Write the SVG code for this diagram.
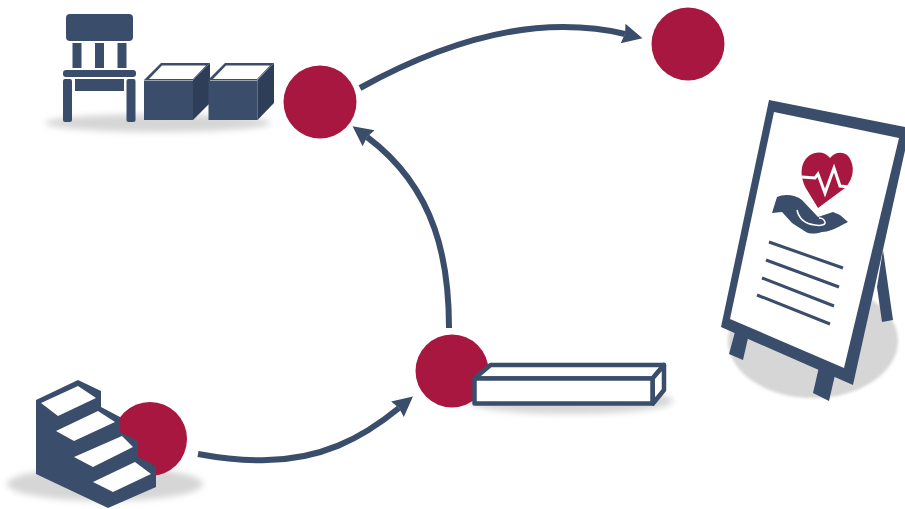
<svg xmlns="http://www.w3.org/2000/svg" width="905" height="509" viewBox="0 0 905 509">
<style>
.n{fill:#3a4d6b}.d{fill:#2e3d58}.w{fill:#fff}.r{fill:#a8173f}.s{fill:#d6d6d6}
.c{fill:none;stroke:#3a4d6b;stroke-width:6}
.l{stroke:#3a4d6b;stroke-width:3;fill:none}
.b{fill:#fff;stroke:#3a4d6b;stroke-width:4.500;stroke-linejoin:round}
</style>
<defs>
<filter id="f" x="-20%" y="-50%" width="140%" height="200%"><feGaussianBlur stdDeviation="3"/></filter>
<filter id="f2" x="-10%" y="-10%" width="120%" height="120%"><feGaussianBlur stdDeviation="1.500"/></filter>
<marker id="a" markerUnits="userSpaceOnUse" markerWidth="24" markerHeight="24" refX="2" refY="12" orient="auto"><path d="M0 2L20 12L0 22L2 12Z" fill="#3a4d6b"/></marker>
</defs>
<rect width="905" height="509" fill="#fff"/>
<g id="connectors">
<path class="c" marker-end="url(#a)" d="M198 454C225 459 245 461 267 460C320 459 360 440 399 408"/>
<path class="c" marker-end="url(#a)" d="M449 328C449 265 438 190 367 137"/>
<path class="c" marker-end="url(#a)" d="M360 88C420 55 490 27 563 27C585 27 605 29 625 34"/>
</g>
<g id="node-chair">
<ellipse class="s" cx="158" cy="123" rx="113" ry="9" filter="url(#f)"/>
<rect class="n" x="66" y="14" width="67" height="27" rx="4"/>
<rect class="n" x="72.500" y="43" width="9" height="25"/>
<rect class="n" x="95" y="43" width="9" height="25"/>
<rect class="n" x="117.500" y="43" width="9" height="25"/>
<rect class="n" x="63" y="70" width="73" height="7" rx="3"/>
<rect class="n" x="63" y="79" width="9" height="43" rx="2"/>
<rect class="n" x="126.500" y="79" width="9" height="43" rx="2"/>
<rect class="n" x="75" y="79" width="49" height="12"/>
</g>
<g id="node-box-1">
<path class="n" d="M144 80L161 63H210L193 80Z"/>
<path class="w" d="M149 79L162 65.500H206L193 79Z"/>
<rect class="n" x="144" y="80.500" width="49" height="39.500"/>
<path class="d" d="M193 80L210 63V103L193 120Z"/>
</g>
<g id="node-box-2">
<path class="n" d="M208 80L225 63H274L257 80Z"/>
<path class="w" d="M213 79L226 65.500H270L257 79Z"/>
<rect class="n" x="208.500" y="80.500" width="49" height="39.500"/>
<path class="d" d="M257.500 80L274 63V103L257.500 120Z"/>
</g>
<g id="node-red-1"><circle class="r" cx="320" cy="102" r="36.500"/></g>
<g id="node-red-2"><circle class="r" cx="688" cy="44" r="36.500"/></g>
<g id="node-beam">
<ellipse class="s" cx="570" cy="401" rx="103" ry="13" filter="url(#f)"/>
<circle class="r" cx="452" cy="371" r="36.500"/>
<path class="b" d="M474.500 378.500L490.500 365H664L652.500 378.500Z"/>
<path class="b" d="M652.500 378.500L664 365V390L653 403.500Z"/>
<rect class="b" x="474.500" y="378.500" width="178" height="25"/>
</g>
<g id="node-stairs">
<ellipse class="s" cx="105" cy="484" rx="98" ry="17" filter="url(#f)"/>
<circle class="r" cx="150" cy="439" r="37"/>
<path class="n" d="M36 400L78 380L101 391V407L120 417V432L138 441V457L156 466V487L108 508L36 474Z"/>
<path class="w" d="M41 403L78 386L96 398L58 416Z"/>
<path class="w" d="M56 431L98 411L115 422L74 441Z"/>
<path class="w" d="M74 457L122 436L133 447L93 467Z"/>
<path class="w" d="M93 482L135 462L151 474L113 492Z"/>
</g>
<g id="node-sign">
<ellipse class="s" cx="813" cy="341" rx="85" ry="57" filter="url(#f2)"/>
<path class="n" d="M883 250L893 320L882 322L877 287Z"/>
<path class="n" d="M735 332L748 338L743 360L729 354Z"/>
<path class="n" d="M819 367L835 375L829 401L813 393Z"/>
<path class="n" d="M769 100L910 128L853 385L721 327Z"/>
<path class="w" d="M774 112L899 138L844 368L730 319Z"/>
<path class="r" d="M818 208L807 190C802 182 800 172 803 164C807 153 822 148 830 158C836 150 848 151 851 161C855 170 852 181 845 188Z"/>
<path fill="none" stroke="#fff" stroke-width="3" d="M802 177L815 178L818 174L825 193L834 168L840 186L850 187"/>
<path class="n" d="M772 213L777 197C783 194 795 194 802 200L818 217L833 212L840 215L848 222L842 225C835 229 828 232 822 232C815 234 810 234 806 232L792 223L782 212Z"/>
<path fill="none" stroke="#fff" stroke-width="1.500" d="M797 210C799 219 806 224 815 225C820 226 826 225 825 222C824 219 821 218 819 218"/>
<path class="l" d="M769 242L843 268M766 260L839 287M762 278L834 306M757 295L830 324"/>
</g>
</svg>
